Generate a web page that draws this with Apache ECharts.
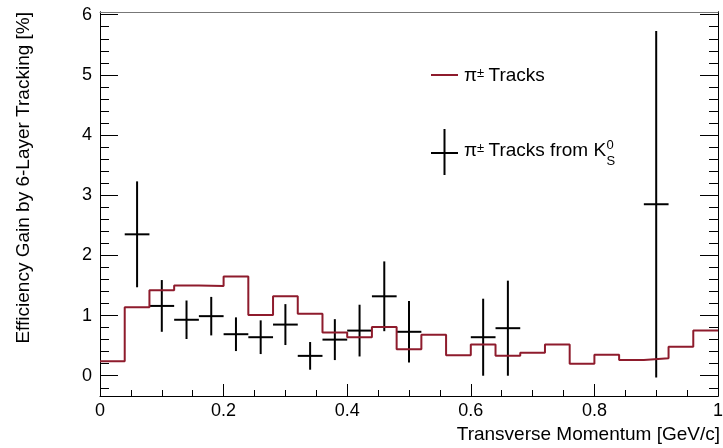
<!DOCTYPE html>
<html>
<head>
<meta charset="utf-8">
<script src="https://cdn.jsdelivr.net/npm/echarts@6/dist/echarts.min.js"></script>
<style>
  html, body { margin: 0; padding: 0; background: #fff; }
  #chart { width: 723px; height: 448px; }
</style>
</head>
<body>
<div id="chart"></div>
<script>
// pi+- tracks : histogram, low edges of the 0.04 GeV/c bins
const binEdges = [0, 0.04, 0.08, 0.12, 0.16, 0.20, 0.24, 0.28, 0.32, 0.36, 0.40, 0.44, 0.48,
                  0.52, 0.56, 0.60, 0.64, 0.68, 0.72, 0.76, 0.80, 0.84, 0.88, 0.92, 0.96];
const binEnd = 1.0;
const piGain = [0.24, 1.14, 1.42, 1.50, 1.49, 1.65, 1.01, 1.32, 1.03, 0.72, 0.64, 0.81, 0.44,
                0.68, 0.34, 0.52, 0.33, 0.38, 0.52, 0.20, 0.35, 0.26, 0.29, 0.48, 0.75];

// pi+- tracks from K0s : points with errors
const k0Pt   = [0.06, 0.10, 0.14, 0.18, 0.22, 0.26, 0.30, 0.34, 0.38, 0.42, 0.46, 0.50, 0.62, 0.66, 0.90];
const k0Gain = [2.35, 1.16, 0.93, 0.99, 0.69, 0.64, 0.85, 0.33, 0.60, 0.75, 1.32, 0.73, 0.64, 0.79, 2.85];
const k0Err  = [0.88, 0.43, 0.32, 0.32, 0.28, 0.28, 0.34, 0.23, 0.34, 0.43, 0.58, 0.51, 0.64, 0.79, 2.88];
const ptHalfWidth = 0.02;

// axes
const yMin = -0.337, yMax = 6.045;
const yMajorTicks = [0, 1, 2, 3, 4, 5, 6];
const yMinorTicks = [-0.2, 0.2, 0.4, 0.6, 0.8, 1.2, 1.4, 1.6, 1.8, 2.2, 2.4, 2.6, 2.8,
                     3.2, 3.4, 3.6, 3.8, 4.2, 4.4, 4.6, 4.8, 5.2, 5.4, 5.6, 5.8];

const FONT = 'Liberation Sans';
const red = '#8e1b2c';

const ctx = document.createElement('canvas').getContext('2d');
function tw(s, size) {
  ctx.font = size + 'px "' + FONT + '"';
  return ctx.measureText(s).width;
}

function txt(x, y, s, size, extra) {
  return Object.assign({
    type: 'text', x: x, y: y, silent: true,
    style: { text: s, font: size + 'px "' + FONT + '"', fill: '#000', align: 'left', verticalAlign: 'middle' }
  }, extra || {});
}

// legend layout
const legX = 464;
const l1y = 76, l2y = 150.7;
const pm1 = legX + tw('π', 19);
const tr1 = pm1 + tw('±', 13) - 1;
const kEnd = tr1 + tw(' Tracks from K', 19) + 0.5;

const legend = [
  { type: 'line', shape: { x1: 431, y1: 75, x2: 458, y2: 75 }, style: { stroke: red, lineWidth: 2 } },
  txt(legX, l1y, 'π', 19),
  txt(pm1, l1y - 2.5, '±', 13),
  txt(tr1, l1y, ' Tracks', 19),
  { type: 'line', shape: { x1: 431, y1: 153, x2: 458, y2: 153 }, style: { stroke: '#000', lineWidth: 2 } },
  { type: 'line', shape: { x1: 444.5, y1: 129, x2: 444.5, y2: 175 }, style: { stroke: '#000', lineWidth: 2 } },
  txt(legX, l2y, 'π', 19),
  txt(pm1, l2y - 2.5, '±', 13),
  txt(tr1, l2y, ' Tracks from K', 19),
  txt(kEnd, 145.5, '0', 13),
  txt(kEnd, 161, 'S', 13)
];

const histData = binEdges.map((x, i) => [x, piGain[i]]);
histData.push([binEnd, piGain[piGain.length - 1]]);

const k0Data = k0Pt.map((x, i) => [x, k0Gain[i], k0Err[i]]);

function yAxisCfg(pos, ticks, len, labels) {
  return {
    type: 'value', min: yMin, max: yMax, position: pos,
    axisLine: { show: true, onZero: false, lineStyle: { color: '#000', width: 1 } },
    axisTick: { show: true, inside: true, length: len, customValues: ticks, lineStyle: { color: '#000' } },
    axisLabel: labels
      ? { show: true, customValues: ticks, margin: 8, fontFamily: FONT, fontSize: 18, color: '#000' }
      : { show: false },
    splitLine: { show: false }
  };
}

const chart = echarts.init(document.getElementById('chart'), null, { renderer: 'canvas' });
chart.setOption({
  animation: false,
  backgroundColor: '#fff',
  grid: { left: 100, right: 5, top: 12, bottom: 52, outerBoundsMode: 'none' },
  xAxis: [
    {
      type: 'value', min: 0, max: 1, interval: 0.2, position: 'bottom',
      axisLine: { show: true, onZero: false, lineStyle: { color: '#000', width: 1 } },
      axisTick: { show: true, inside: true, length: 12, lineStyle: { color: '#000' } },
      minorTick: { show: true, splitNumber: 4, length: 6, lineStyle: { color: '#000' } },
      axisLabel: { margin: 6, fontFamily: FONT, fontSize: 18, color: '#000' },
      splitLine: { show: false }
    },
    {
      type: 'value', min: 0, max: 1, position: 'top',
      axisLine: { show: true, onZero: false, lineStyle: { color: '#777', width: 1 } },
      axisTick: { show: false }, axisLabel: { show: false }, splitLine: { show: false }
    }
  ],
  yAxis: [
    yAxisCfg('left', yMajorTicks, 18, true),
    yAxisCfg('left', yMinorTicks, 9, false),
    yAxisCfg('right', yMajorTicks, 18, false),
    yAxisCfg('right', yMinorTicks, 9, false)
  ],
  series: [
    {
      name: 'pi tracks', type: 'line', step: 'end', data: histData,
      xAxisIndex: 0, yAxisIndex: 0,
      showSymbol: false, symbol: 'none',
      lineStyle: { color: red, width: 2 }
    },
    {
      name: 'pi from K0s', type: 'custom', data: k0Data,
      xAxisIndex: 0, yAxisIndex: 0,
      dimensions: ['pt', 'gain', 'err'],
      encode: { x: 0, y: 1 },
      renderItem: function (params, api) {
        const x = api.value(0), y = api.value(1), e = api.value(2);
        const l = api.coord([x - ptHalfWidth, y]);
        const r = api.coord([x + ptHalfWidth, y]);
        const t = api.coord([x, y + e]);
        const b = api.coord([x, y - e]);
        const st = { stroke: '#000', lineWidth: 2 };
        return {
          type: 'group',
          children: [
            { type: 'line', shape: { x1: l[0], y1: l[1], x2: r[0], y2: r[1] }, style: st },
            { type: 'line', shape: { x1: t[0], y1: t[1], x2: b[0], y2: b[1] }, style: st }
          ]
        };
      }
    }
  ],
  graphic: [
    txt(24, 12, 'Efficiency Gain by 6-Layer Tracking [%]', 19,
        { rotation: Math.PI / 2, style: { text: 'Efficiency Gain by 6-Layer Tracking [%]', font: '19px "' + FONT + '"', fill: '#000', align: 'right', verticalAlign: 'middle' } }),
    txt(720, 435, 'Transverse Momentum [GeV/c]', 19,
        { style: { text: 'Transverse Momentum [GeV/c]', font: '19px "' + FONT + '"', fill: '#000', align: 'right', verticalAlign: 'middle' } })
  ].concat(legend)
});
</script>
</body>
</html>
